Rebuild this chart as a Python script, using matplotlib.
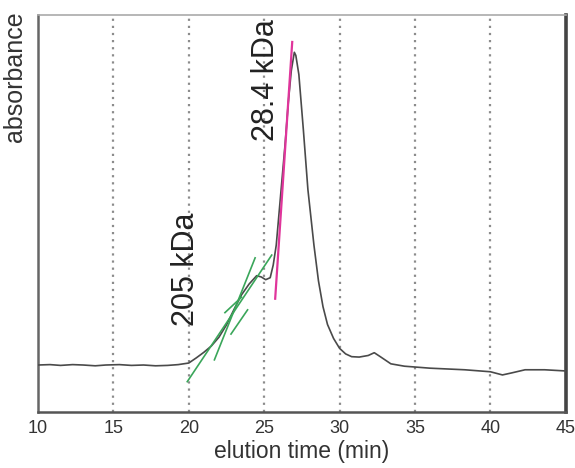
import matplotlib
matplotlib.use("Agg")
import matplotlib.pyplot as plt

plt.rcParams['font.family'] = ['Liberation Sans', 'DejaVu Sans']

# chromatogram trace (elution time in min, absorbance in arbitrary units)
time_min = [10.0, 10.8, 11.5, 12.3, 13.0, 13.8, 14.5, 15.4, 16.2, 17.0, 17.8, 18.6, 19.3,
            20.0, 20.5, 21.0, 21.5, 22.0, 22.5, 23.0, 23.5, 24.0, 24.5, 24.8, 25.1, 25.4,
            25.6, 25.8, 26.1, 26.4, 26.6, 26.8, 27.0, 27.1, 27.3, 27.6, 27.9, 28.3, 28.6,
            28.9, 29.2, 29.6, 30.0, 30.4, 30.8, 31.3, 31.9, 32.3, 32.7, 33.4, 34.3, 36.0,
            38.3, 40.0, 40.8, 41.4, 42.3, 43.6, 45.0]
absorb = [11.8, 11.9, 11.7, 11.9, 11.8, 11.6, 11.8, 11.9, 11.7, 11.8, 11.6, 11.7, 11.9,
          12.3, 13.6, 15.0, 16.6, 18.8, 21.9, 25.8, 29.5, 32.2, 34.3, 34.0, 33.3, 33.8,
          37.0, 42.0, 55.0, 68.0, 78.0, 86.0, 90.6, 89.8, 85.0, 71.0, 56.0, 42.0, 33.0,
          26.5, 22.0, 18.5, 16.0, 14.6, 13.9, 13.8, 14.2, 14.9, 13.9, 12.1, 11.5, 11.0,
          10.6, 10.1, 9.3, 9.8, 10.6, 10.6, 10.3]

# fitted tangent lines (x endpoints in min, y endpoints in absorbance units)
green_x = [[19.9, 25.5], [21.7, 24.4], [22.4, 23.5], [22.8, 23.9]]
green_y = [[7.6, 39.5], [13.1, 38.8], [25.0, 28.9], [19.6, 25.7]]
magenta_x = [25.73, 26.86]
magenta_y = [28.5, 93.2]

labels = ["205 kDa", "28.4 kDa"]
label_x = [19.8, 25.1]
label_y = [36.0, 83.5]

xticks = [10, 15, 20, 25, 30, 35, 40, 45]

fig = plt.figure(figsize=(5.75, 4.68), dpi=100)
ax = fig.add_axes([0.066, 0.120, 0.918, 0.848])

for gx in xticks[1:-1]:
    ax.axvline(gx, color='#8c8c8c', lw=1.6, linestyle=(0, (1, 2.2)), zorder=1)

ax.plot(time_min, absorb, color='#4a4a4a', lw=1.2, zorder=3)
for gx, gy in zip(green_x, green_y):
    ax.plot(gx, gy, color='#3aa65a', lw=1.2, zorder=4)
ax.plot(magenta_x, magenta_y, color='#e0359b', lw=1.6, zorder=4)

for t, x, y in zip(labels, label_x, label_y):
    ax.text(x, y, t, rotation=90, ha='center', va='center', fontsize=22, color='#222222')

ax.set_xlim(10, 45)
ax.set_ylim(0, 100)
ax.set_xticks(xticks)
ax.set_xticklabels([str(v) for v in xticks], fontsize=13, color='#333333')
ax.set_yticks([])
ax.tick_params(axis='x', length=0, pad=6)
ax.set_xlabel('elution time (min)', fontsize=16.5, color='#333333', labelpad=2)
ax.set_ylabel('absorbance', fontsize=18, color='#333333')
ax.yaxis.set_label_coords(-0.02, 0.845)

ax.spines['top'].set_color('#aaaaaa')
ax.spines['top'].set_linewidth(1.2)
ax.spines['left'].set_color('#666666')
ax.spines['left'].set_linewidth(1.8)
ax.spines['bottom'].set_color('#555555')
ax.spines['bottom'].set_linewidth(1.8)
ax.spines['right'].set_color('#444444')
ax.spines['right'].set_linewidth(2.6)

fig.savefig('out.png', dpi=100)
